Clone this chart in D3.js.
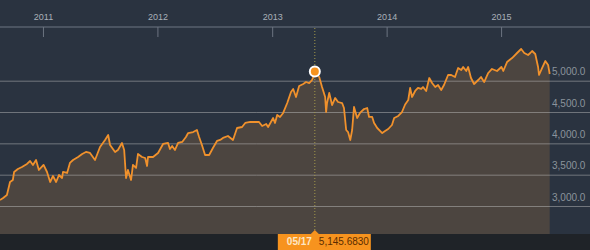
<!DOCTYPE html>
<html>
<head>
<meta charset="utf-8">
<script src="https://cdn.jsdelivr.net/npm/d3@7"></script>
<style>
body { margin: 0; background: #2a3340; }
svg { display: block; font-family: "Liberation Sans", Arial, sans-serif; }
</style>
</head>
<body>
<div id="chart"></div>
<script>

var dates = [
	"2010-08-17","2010-08-27","2010-09-08","2010-09-18","2010-09-27","2010-10-01","2010-10-13","2010-10-26","2010-11-11","2010-11-21","2010-11-30","2010-12-10","2010-12-19",
	"2011-01-03","2011-01-14","2011-01-24","2011-02-02","2011-02-12","2011-02-21","2011-03-03","2011-03-06","2011-03-19","2011-03-28","2011-04-07","2011-04-23","2011-05-06","2011-05-18","2011-05-31","2011-06-16","2011-07-02","2011-07-18","2011-07-28","2011-08-03","2011-08-19","2011-08-28","2011-09-10","2011-09-17","2011-09-23","2011-09-29","2011-10-09","2011-10-15","2011-10-25","2011-10-31","2011-11-13","2011-11-23","2011-11-29","2011-12-02","2011-12-18",
	"2012-01-03","2012-01-19","2012-02-04","2012-02-10","2012-02-17","2012-02-26","2012-03-07","2012-03-20","2012-04-01","2012-04-08","2012-04-24","2012-05-06","2012-05-13","2012-05-22","2012-06-01","2012-06-14","2012-06-26","2012-07-09","2012-07-19","2012-07-28","2012-08-13","2012-08-29","2012-09-11","2012-09-27","2012-10-07","2012-10-23","2012-11-07","2012-11-20","2012-11-30","2012-12-13","2012-12-19","2012-12-28",
	"2013-01-04","2013-01-10","2013-01-17","2013-01-26","2013-02-05","2013-02-18","2013-03-02","2013-03-09","2013-03-18","2013-03-28","2013-04-10","2013-04-19","2013-04-29","2013-05-08","2013-05-15","2013-05-17","2013-05-31","2013-06-09","2013-06-19","2013-06-22","2013-06-25","2013-07-02","2013-07-11","2013-07-21","2013-07-30","2013-08-12","2013-08-18","2013-08-25","2013-08-31","2013-09-07","2013-09-13","2013-09-19","2013-09-29","2013-10-08","2013-10-21","2013-10-31","2013-11-06","2013-11-16","2013-11-22","2013-12-02","2013-12-18","2013-12-27",
	"2014-01-06","2014-01-18","2014-01-25","2014-02-07","2014-02-19","2014-03-01","2014-03-11","2014-03-17","2014-03-23","2014-04-02","2014-04-11","2014-04-21","2014-04-27","2014-05-07","2014-05-17","2014-05-26","2014-06-05","2014-06-14","2014-06-24","2014-07-03","2014-07-16","2014-07-26","2014-08-07","2014-08-17","2014-08-27","2014-09-02","2014-09-12","2014-09-18","2014-09-27","2014-10-07","2014-10-20","2014-10-29","2014-11-08","2014-11-21","2014-12-03","2014-12-19",
	"2015-01-02","2015-01-08","2015-01-20","2015-02-05","2015-02-21","2015-03-06","2015-03-16","2015-03-28","2015-04-04","2015-04-10","2015-04-20","2015-04-29","2015-05-02","2015-05-12","2015-05-22","2015-05-31","2015-06-05"
];

var values = [
	3096,3128,3176,3383,3415,3543,3591,3623,3671,3718,3655,3734,3575,
	3655,3543,3383,3479,3383,3495,3447,3543,3527,3687,3734,3782,3830,3862,3846,3734,3942,4054,4133,3974,3862,3894,4006,3894,3447,3575,3415,3655,3607,3830,3782,3766,3639,3782,3782,
	3846,3990,4006,3910,3958,3894,4006,4022,4101,4165,4181,4213,4101,3974,3814,3814,3926,4038,4054,4086,4117,4054,4245,4261,4325,4341,4341,4341,4277,4309,4261,4341,
	4405,4325,4453,4421,4485,4644,4820,4868,4740,4915,4947,4979,4963,5011,5091,5145.683,5059,4899,4740,4500,4644,4804,4612,4724,4660,4644,4564,4213,4181,4054,4213,4580,4405,4485,4548,4564,4421,4421,4325,4245,4165,4197,
	4229,4293,4405,4437,4500,4620,4692,4884,4740,4836,4884,4868,4899,4836,5043,4963,4899,4931,4852,4931,5091,5091,5059,5203,5171,5219,5155,5219,5043,4947,5011,5059,4979,5123,5187,5155,
	5219,5155,5298,5362,5442,5506,5442,5410,5442,5474,5426,5219,5091,5203,5314,5251,5107
];

var yearTicks = ["2011", "2012", "2013", "2014", "2015"];
var yTicks = [3000, 3500, 4000, 4500, 5000];
var xStart = "2010-08-17";
var xEnd = "2015-06-06";
var markerDate = "2013-05-17";
var markerValue = 5145.683;

var w = 590;
var h = 250;
var plotW = 550;
var axisY = 27;
var bottom = 234;

var parse = d3.timeParse("%Y-%m-%d");
var data = dates.map(function(d, i) { return { date: parse(d), value: values[i] }; });

var x = d3.scaleTime().domain([parse(xStart), parse(xEnd)]).range([0, plotW]);
var y = d3.scaleLinear().domain([3000, 5000]).range([206, 80.7]);

var svg = d3.select("#chart")
	.append("svg")
	.attr("width", w)
	.attr("height", h);

svg.append("rect")
	.attr("width", w)
	.attr("height", h)
	.attr("fill", "#2a3340");

svg.append("rect")
	.attr("y", bottom)
	.attr("width", w)
	.attr("height", h - bottom)
	.attr("fill", "#1f2328");

var area = d3.area()
	.x(function(d) { return x(d.date); })
	.y0(bottom)
	.y1(function(d) { return y(d.value); });

svg.append("path")
	.datum(data)
	.attr("fill", "#4c4540")
	.attr("d", area);

// grid lines
var grid = svg.append("g")
	.call(d3.axisRight(y).tickValues(yTicks).tickSize(w).tickFormat(""));
grid.select(".domain").remove();
grid.selectAll("line")
	.attr("stroke", "#c8c8c8")
	.attr("stroke-opacity", 0.45);

var line = d3.line()
	.x(function(d) { return x(d.date); })
	.y(function(d) { return y(d.value); });

svg.append("path")
	.datum(data)
	.attr("fill", "none")
	.attr("stroke", "#f0912c")
	.attr("stroke-width", 1.8)
	.attr("stroke-linejoin", "round")
	.attr("d", line);

// value labels
var yAxis = svg.append("g")
	.attr("transform", "translate(552,0)")
	.call(d3.axisRight(y).tickValues(yTicks).tickSize(0).tickPadding(0).tickFormat(d3.format(",.1f")));
yAxis.select(".domain").remove();
yAxis.selectAll("text")
	.attr("y", -9)
	.attr("fill", "#8b939c")
	.style("font-size", "10px");

// top time axis
svg.append("line")
	.attr("x1", 0).attr("x2", w)
	.attr("y1", axisY).attr("y2", axisY)
	.attr("stroke", "#4b5461")
	.attr("stroke-width", 2);

var yearDates = yearTicks.map(function(t) { return parse(t + "-01-01"); });

var xTicks = svg.append("g")
	.attr("transform", "translate(0," + axisY + ")")
	.call(d3.axisBottom(x).tickValues(yearDates).tickSize(10).tickFormat(""));
xTicks.select(".domain").remove();
xTicks.selectAll("line").attr("stroke", "#6c7480");

var xLabels = svg.append("g")
	.attr("transform", "translate(0," + axisY + ")")
	.call(d3.axisTop(x).tickValues(yearDates).tickSize(0).tickPadding(7).tickFormat(d3.timeFormat("%Y")));
xLabels.select(".domain").remove();
xLabels.selectAll("text")
	.attr("fill", "#a9b0b8")
	.style("font-size", "9px");

// highlighted point
var mx = x(parse(markerDate));
var my = y(markerValue);

svg.append("line")
	.attr("x1", mx).attr("x2", mx)
	.attr("y1", axisY + 1).attr("y2", bottom - 3)
	.attr("stroke", "#a39a4a")
	.attr("stroke-width", 1)
	.attr("stroke-dasharray", "1,2");

svg.append("circle")
	.attr("cx", mx)
	.attr("cy", my)
	.attr("r", 5)
	.attr("fill", "#f7931e")
	.attr("stroke", "#fff")
	.attr("stroke-width", 2);

var tip = svg.append("g")
	.attr("transform", "translate(" + mx + "," + bottom + ")");

tip.append("path")
	.attr("d", "M-4,0L0,-4L4,0Z")
	.attr("fill", "#f7931e");

tip.append("rect")
	.attr("x", -37)
	.attr("y", 0)
	.attr("width", 93)
	.attr("height", h - bottom)
	.attr("fill", "#f7931e");

tip.append("text")
	.attr("x", -28)
	.attr("y", 11)
	.attr("fill", "#fde6c4")
	.style("font-size", "10px")
	.style("font-weight", "bold")
	.text(d3.timeFormat("%m/%d")(parse(markerDate)));

tip.append("text")
	.attr("x", 4)
	.attr("y", 11)
	.attr("fill", "#5c2d00")
	.style("font-size", "10px")
	.text(d3.format(",.4f")(markerValue));

</script>
</body>
</html>
